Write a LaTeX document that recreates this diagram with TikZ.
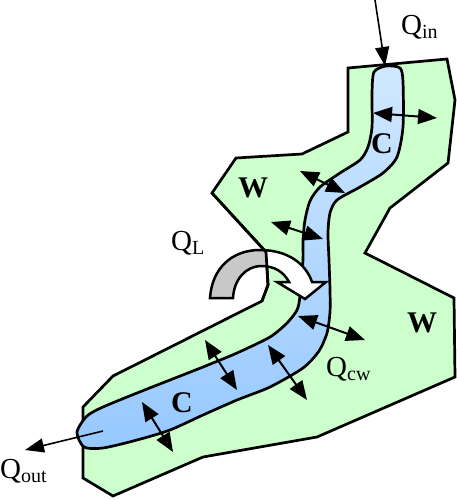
\documentclass[tikz,border=0pt]{standalone}
\usepackage{fontspec}
\setmainfont{Liberation Serif}
\usetikzlibrary{arrows.meta}
\definecolor{wallgreen}{RGB}{204,255,204}
\definecolor{chantop}{RGB}{208,232,255}
\definecolor{chanbot}{RGB}{150,200,255}
\definecolor{lossgray}{RGB}{200,200,200}
\newcommand{\flow}[1]{Q\raisebox{-4pt}{\fontsize{20}{20}\selectfont #1}}
\newcommand{\lossarrow}{(210,298) .. controls (212,268) and (232,250) .. (260,250) .. controls (288,250) and (306,264) .. (312,282) -- (326,282) -- (305,299) -- (277,282) -- (289,282) .. controls (284,272) and (274,266) .. (262,266) .. controls (245,266) and (234,280) .. (233,298) -- cycle}
\tikzset{
  outline/.style={line width=2.7pt,line join=miter},
  wall/.style={outline,fill=wallgreen},
  chan/.style={outline,top color=chantop,bottom color=chanbot},
  exch/.style={{Triangle[length=19pt,width=15pt]}-{Triangle[length=19pt,width=15pt]},line width=2pt},
  flowarrow/.style={-{Triangle[length=19pt,width=14pt]},line width=1.6pt},
  lab/.style={inner sep=0pt,anchor=base west,font=\fontsize{29}{30}\selectfont},
  zone/.style={inner sep=0pt,anchor=base,font=\fontsize{30}{32}\selectfont\bfseries}
}
\begin{document}
\begin{tikzpicture}[x=1pt,y=-1pt]
\useasboundingbox (0,0) rectangle (457,500);
% wall zone
\draw[wall] (348,68) -- (447,59) -- (455,100) -- (448,163) -- (390,208) -- (365,253)
  -- (454,298) -- (455,377) -- (317,437) -- (203,457) -- (113,496) -- (83,478)
  -- (83,407) -- (113,376) -- (262,301) -- (268,285) -- (266,252) -- (212,193)
  -- (236,158) -- (302,154) -- (348,132) -- cycle;
% channel
\draw[chan] plot[smooth cycle,tension=0.45] coordinates {
  (386,66) (400,68) (403,82) (403,127) (397,157) (383,173) (360,187) (337,200)
  (330,213) (328,233) (329,260) (330,290) (330,312) (327,333) (319,351) (303,368)
  (270,387) (237,400) (203,415) (170,430) (137,440) (103,448) (84,447) (77,432)
  (87,416) (103,407) (137,393) (170,380) (203,367) (237,353) (270,337) (287,323)
  (297,310) (300,296) (303,260) (303,240) (305,220) (310,201) (320,187) (340,173)
  (360,160) (368,147) (372,127) (372,93) (374,72)};
% exchange between channel and wall
\foreach \xa/\ya/\xb/\yb in {373/113/437/118, 300/171/345/193, 271/222/323/239,
    298/316/365/340, 268/345/307/400, 205/340/237/390, 142/402/173/452}
  \draw[exch] (\xa,\ya) -- (\xb,\yb);
% inflow and outflow
\coordinate (inTop) at (375,0);
\coordinate (inEnd) at (385,66);
\coordinate (outStart) at (103,431);
\coordinate (outEnd) at (25,450);
\draw[flowarrow] (inTop) -- (inEnd);
\draw[flowarrow] (outStart) -- (outEnd);
% loss arrow
\fill[white] \lossarrow;
\begin{scope}
  \clip (212,193) -- (266,252) -- (268,285) -- (262,301) -- (150,330) -- (150,193) -- cycle;
  \fill[lossgray] \lossarrow;
\end{scope}
\draw[outline,line width=2.5pt] \lossarrow;
\draw[outline] (212,193) -- (266,252) -- (268,285) -- (262,301);
% labels
\node[lab] (qin) at (401,35) {\flow{in}};
\node[lab] (ql) at (171,250) {\flow{L}};
\node[lab] (qcw) at (326,376) {\flow{cw}};
\node[lab] (qout) at (0,478) {\flow{out}};
\node[zone] (wup) at (253,197) {W};
\node[zone] (wright) at (422,332) {W};
\node[zone] (cup) at (382,153) {C};
\node[zone] (clow) at (182,412) {C};
\end{tikzpicture}
\end{document}
